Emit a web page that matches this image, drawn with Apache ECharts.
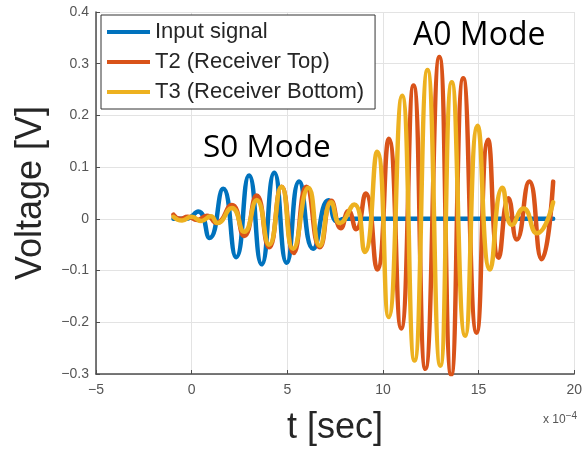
<!DOCTYPE html>
<html><head><meta charset="utf-8">
<script src="https://cdn.jsdelivr.net/npm/echarts@6/dist/echarts.min.js"></script>
<style>html,body{margin:0;padding:0;background:#fff}#c{width:585px;height:451px}</style>
</head><body><div id="c"></div>
<script>
// x in units of 1e-4 s
const xTicks = [-5, 0, 5, 10, 15, 20];
const yTicks = [-0.3, -0.2, -0.1, 0, 0.1, 0.2, 0.3, 0.4];
const seriesNames = ['Input signal', 'T2 (Receiver Top)', 'T3 (Receiver Bottom)'];

const inputT = [-0.95, -0.3, 0.35, 0.94, 1.65, 2.33, 3.0, 3.66, 4.32, 4.97, 5.62, 6.35, 7.15, 7.6, 8.0, 18.9];
const inputV = [0, 0, 0.014, -0.037, 0.058, -0.074, 0.084, -0.088, 0.089, -0.085, 0.072, -0.058, 0.036, -0.005, 0, 0];

const t2T = [-0.95, -0.6, -0.2, 0.3, 0.8, 1.3, 2.1, 2.75, 3.4, 4.05, 4.7, 5.33, 6.0, 6.7, 7.3, 7.8, 8.2, 8.6, 9.1, 9.7, 10.31, 10.95, 11.6, 12.22, 12.95, 13.57, 14.2, 14.9, 15.5, 16.05, 16.56, 17.0, 17.65, 18.3, 18.9];
const t2V = [0.008, 0.0, 0.004, -0.002, 0.006, -0.008, 0.027, -0.033, 0.045, -0.055, 0.062, -0.066, 0.062, -0.055, 0.035, -0.018, 0.015, -0.02, 0.049, -0.098, 0.155, -0.212, 0.258, -0.29, 0.313, -0.302, 0.272, -0.22, 0.153, -0.075, 0.04, -0.04, 0.072, -0.078, 0.072];

const t3T = [-0.95, -0.5, 0, 0.5, 1.0, 1.35, 2.1, 2.75, 3.4, 4.05, 4.7, 5.3, 6.1, 6.7, 7.3, 7.75, 8.5, 9.05, 9.7, 10.3, 11.0, 11.65, 12.33, 13.0, 13.6, 14.3, 14.95, 15.6, 16.25, 16.75, 17.35, 18.05, 18.9];
const t3V = [0.004, -0.003, 0.004, -0.004, 0.005, -0.008, 0.021, -0.025, 0.036, -0.05, 0.062, -0.058, 0.06, -0.052, 0.032, -0.008, 0.028, -0.064, 0.13, -0.19, 0.238, -0.274, 0.288, -0.284, 0.264, -0.226, 0.18, -0.098, 0.06, -0.012, 0.02, -0.028, 0.032];

const colors = ['#0072BD', '#D95319', '#EDB120'];
const zip = (a, b) => a.map((v, i) => [v, b[i]]);
const fam = '"Liberation Sans", Arial, sans-serif';
const minus = s => String(s).replace('-', '\u2212');

const chart = echarts.init(document.getElementById('c'), null, {renderer: 'canvas'});
const mk = (i, T, V) => ({
  name: seriesNames[i], type: 'line', data: zip(T, V), smooth: 0.55, showSymbol: false,
  lineStyle: {color: colors[i], width: 4.5, join: 'round', cap: 'round'}, itemStyle: {color: colors[i]}, z: 2 + i, animation: false
});
chart.setOption({
  animation: false,
  grid: {left: 96, right: 9, top: 12, bottom: 76, containLabel: false},
  legend: {
    orient: 'vertical', left: 101, top: 15, padding: [6, 11, 6, 6], itemGap: 8,
    itemWidth: 43, itemHeight: 4, icon: 'rect',
    backgroundColor: '#fff', borderColor: '#333', borderWidth: 1,
    textStyle: {fontFamily: fam, fontSize: 22, color: '#262626'},
    data: seriesNames
  },
  xAxis: {
    type: 'value', min: xTicks[0], max: xTicks[xTicks.length - 1], interval: 5,
    name: 't [sec]', nameLocation: 'middle', nameGap: 36,
    nameTextStyle: {fontFamily: fam, fontSize: 36, color: '#262626'},
    axisLine: {show: true, onZero: false, lineStyle: {color: '#4d4d4d', width: 1.5}},
    axisTick: {show: true, inside: true, length: 4, lineStyle: {color: '#4d4d4d'}},
    axisLabel: {fontFamily: fam, fontSize: 14, color: '#555', margin: 9, formatter: v => minus(v)},
    splitLine: {show: true, lineStyle: {color: '#e3e3e3', width: 1}}
  },
  yAxis: {
    type: 'value', min: yTicks[0], max: yTicks[yTicks.length - 1], interval: 0.1,
    name: 'Voltage [V]', nameLocation: 'middle', nameGap: 47,
    nameTextStyle: {fontFamily: fam, fontSize: 36, color: '#262626'},
    axisLine: {show: true, onZero: false, lineStyle: {color: '#4d4d4d', width: 1.5}},
    axisTick: {show: true, inside: true, length: 4, lineStyle: {color: '#4d4d4d'}},
    axisLabel: {fontFamily: fam, fontSize: 14, color: '#555', margin: 7,
      formatter: v => Math.abs(v) < 1e-9 ? '0' : minus((Math.round(v * 10) / 10).toFixed(1))},
    splitLine: {show: true, lineStyle: {color: '#e3e3e3', width: 1}}
  },
  graphic: [
    {type: 'text', left: 203, top: 132, z: 100, style: {text: 'S0 Mode', font: '31.5px "Open Sans", sans-serif', fill: '#000'}},
    {type: 'text', left: 413, top: 20, z: 100, style: {text: 'A0 Mode', font: '32px "Open Sans", sans-serif', fill: '#000'}},
    {type: 'text', left: 543, top: 411, z: 100, style: {
      text: 'x 10{s|\u22124}', font: '12px ' + fam, fill: '#555',
      rich: {s: {fontSize: 10, fontFamily: fam, fill: '#555', padding: [0, 0, 8, 0]}}
    }}
  ],
  series: [mk(0, inputT, inputV), mk(1, t2T, t2V), mk(2, t3T, t3V)]
});
</script>
</body></html>
